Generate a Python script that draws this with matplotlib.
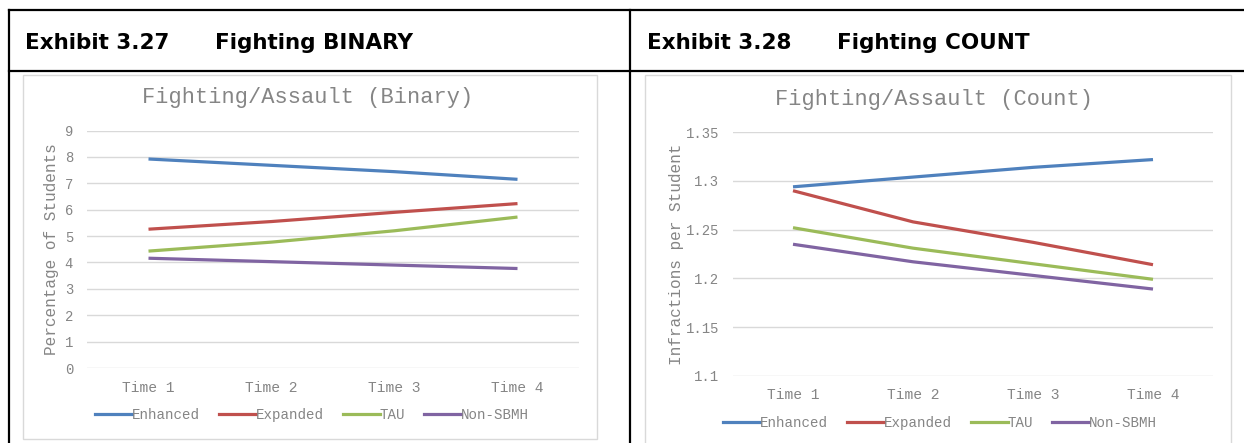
import matplotlib
matplotlib.use("Agg")
import matplotlib.pyplot as plt
from matplotlib.lines import Line2D
from matplotlib.patches import Rectangle

W, H = 1244, 443

times = ["Time 1", "Time 2", "Time 3", "Time 4"]
groups = ["Enhanced", "Expanded", "TAU", "Non-SBMH"]
colors = ["#4F81BD", "#C0504D", "#9BBB59", "#8064A2"]

# Exhibit 3.27 - percentage of students (binary)
binary_enhanced = [7.92, 7.68, 7.44, 7.15]
binary_expanded = [5.26, 5.55, 5.90, 6.23]
binary_tau = [4.43, 4.77, 5.20, 5.72]
binary_non = [4.16, 4.03, 3.90, 3.77]

# Exhibit 3.28 - infractions per student (count)
count_enhanced = [1.294, 1.304, 1.314, 1.322]
count_expanded = [1.290, 1.258, 1.237, 1.214]
count_tau = [1.252, 1.231, 1.215, 1.199]
count_non = [1.235, 1.217, 1.203, 1.189]

mono = "Liberation Mono"
grey = "#858585"


def px(x, y):
    return x / W, 1 - y / H


def hline(fig, x0, x1, y, color="black", lw=1.6):
    a, b = px(x0, y)
    c, _ = px(x1, y)
    fig.add_artist(Line2D([a, c], [b, b], color=color, lw=lw))


def vline(fig, x, y0, y1, color="black", lw=1.6):
    a, b = px(x, y0)
    _, d = px(x, y1)
    fig.add_artist(Line2D([a, a], [b, d], color=color, lw=lw))


def frame(fig, x0, y0, x1, y1):
    a, b = px(x0, y1)
    fig.add_artist(Rectangle((a, b), (x1 - x0) / W, (y1 - y0) / H,
                             transform=fig.transFigure, fill=False,
                             edgecolor="#d9d9d9", lw=1.0))


def header(fig, x, num, text):
    hx, hy = px(x, 43)
    fig.text(hx, hy, num, fontsize=15.5, fontweight="bold", ha="left",
             va="center", family="DejaVu Sans")
    hx, _ = px(x + 190, 43)
    fig.text(hx, hy, text, fontsize=15.5, fontweight="bold", ha="left",
             va="center", family="DejaVu Sans")


def chart(fig, left, right, top, bottom, series, ylim, yticks, yfmt,
          title, title_xy, ylabel, ylabel_x, legend_xy):
    a, b = px(left, bottom)
    ax = fig.add_axes([a, b, (right - left) / W, (bottom - top) / H])
    for vals, name, c in zip(series, groups, colors):
        ax.plot(range(len(times)), vals, color=c, lw=2.3, label=name,
                solid_capstyle="butt")
    ax.set_xlim(-0.5, 3.5)
    ax.set_ylim(*ylim)
    ax.set_yticks(yticks)
    ax.set_yticklabels([yfmt(v) for v in yticks], family=mono, color=grey,
                       fontsize=10)
    ax.set_xticks(range(len(times)))
    ax.set_xticklabels(times, family=mono, color=grey, fontsize=10.5)
    ax.tick_params(length=0, axis="y", pad=10)
    ax.tick_params(length=0, axis="x", pad=9)
    ax.grid(axis="y", color="#d9d9d9", lw=1.0)
    ax.set_axisbelow(True)
    for s in ax.spines.values():
        s.set_visible(False)
    tx, ty = px(*title_xy)
    fig.text(tx, ty, title, family=mono, color=grey, fontsize=15.8,
             ha="center", va="center")
    lx, ly = px(ylabel_x, (top + bottom) / 2)
    fig.text(lx, ly, ylabel, family=mono, color=grey, fontsize=11.6,
             rotation=90, ha="center", va="center")
    cx, cy = px(*legend_xy)
    handles = [Line2D([], [], color=c, lw=2.3) for c in colors]
    fig.legend(handles, groups, loc="center", bbox_to_anchor=(cx, cy),
               ncol=4, frameon=False, handlelength=2.6, handletextpad=0.0,
               columnspacing=1.35, prop={"family": mono, "size": 10.2},
               labelcolor=grey)
    return ax


fig = plt.figure(figsize=(W / 100, H / 100), dpi=100)
fig.patch.set_facecolor("white")

# table borders
hline(fig, 9, W, 10)
hline(fig, 9, W, 71)
vline(fig, 9, 10, H)
vline(fig, 630, 10, H)

header(fig, 25, "Exhibit 3.27", "Fighting BINARY")
header(fig, 647, "Exhibit 3.28", "Fighting COUNT")

frame(fig, 23, 75, 597, 439)
frame(fig, 645, 75, 1231, 445)

chart(fig, 87, 579, 130.5, 368,
      [binary_enhanced, binary_expanded, binary_tau, binary_non],
      (0, 9), list(range(0, 10)), lambda v: f"{v}",
      "Fighting/Assault (Binary)", (308, 98), "Percentage of Students", 52,
      (312, 415))

chart(fig, 733, 1213, 132.3, 375.7,
      [count_enhanced, count_expanded, count_tau, count_non],
      (1.1, 1.35), [1.1, 1.15, 1.2, 1.25, 1.3, 1.35], lambda v: f"{v:g}",
      "Fighting/Assault (Count)", (934, 100), "Infractions per Student", 676,
      (940, 423))

fig.savefig("out.png", dpi=100)
